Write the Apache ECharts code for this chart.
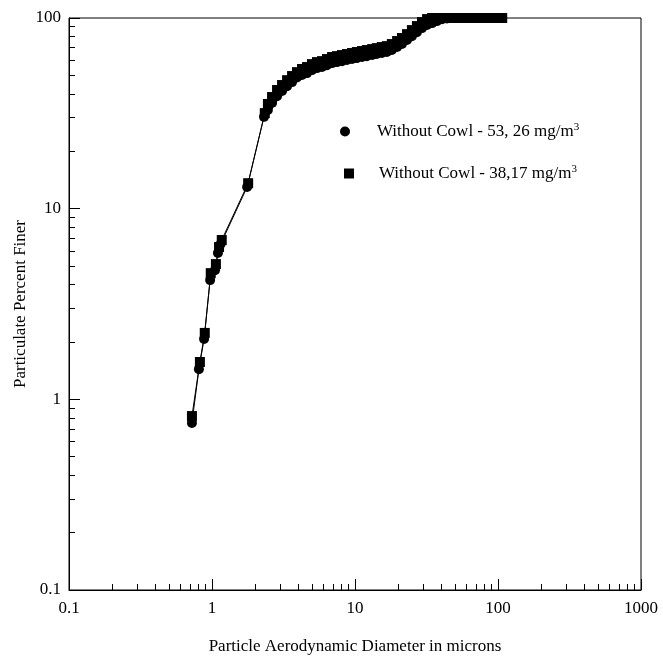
<!DOCTYPE html>
<html>
<head>
<meta charset="utf-8">
<script src="https://cdn.jsdelivr.net/npm/echarts@6/dist/echarts.min.js"></script>
<style>html,body{margin:0;padding:0;background:#fff}#c{width:663px;height:660px}</style>
</head>
<body>
<div id="c"></div>
<script>
var seriesNames = ['Without Cowl - 53, 26 mg/m³', 'Without Cowl - 38,17 mg/m³'];
var xCircle = [0.724, 0.81, 0.88, 0.97, 1.05, 1.10, 1.15, 1.76, 2.31, 2.46, 2.63, 2.85, 3.09, 3.35, 3.63, 3.93, 4.26, 4.62, 5.00, 5.42, 5.88, 6.37, 6.91, 7.48, 8.11, 8.79, 9.53, 10.3, 11.2, 12.1, 13.2, 14.2, 15.4, 16.7, 18.1, 19.7, 21.3, 23.1, 25.0, 27.1, 29.4, 31.9, 34.6, 37.4, 40.6, 44.0, 47.7, 51.7, 56.0, 60.7, 65.8, 71.3, 77.3, 83.8, 90.8, 98.4, 107];
var yCircle = [0.752, 1.44, 2.07, 4.22, 4.76, 5.85, 6.52, 12.98, 30.3, 32.9, 35.8, 38.9, 41.4, 43.9, 46.1, 48.7, 50.2, 51.4, 53.3, 54.6, 55.3, 56.6, 58.0, 58.7, 59.4, 60.2, 60.9, 61.6, 62.4, 63.1, 63.9, 64.7, 65.5, 66.3, 67.9, 70.4, 73.0, 76.6, 80.3, 84.3, 88.5, 91.8, 94.0, 96.3, 98.5, 99.5, 100, 100, 100, 100, 100, 100, 100, 100, 100, 100, 100];
var xSquare = [0.724, 0.823, 0.89, 0.98, 1.065, 1.12, 1.17, 1.79, 2.34, 2.46, 2.63, 2.85, 3.09, 3.35, 3.63, 3.93, 4.26, 4.62, 5.00, 5.42, 5.88, 6.37, 6.91, 7.48, 8.11, 8.79, 9.53, 10.3, 11.2, 12.1, 13.2, 14.2, 15.4, 16.7, 18.1, 19.7, 21.3, 23.1, 25.0, 27.1, 29.4, 31.9, 34.6, 37.4, 40.6, 44.0, 47.7, 51.7, 56.0, 60.7, 65.8, 71.3, 77.3, 83.8, 90.8, 98.4, 107];
var ySquare = [0.817, 1.57, 2.23, 4.59, 5.12, 6.29, 6.85, 13.6, 31.7, 35.4, 38.5, 41.9, 44.5, 47.2, 49.6, 52.0, 54.0, 55.3, 57.3, 58.7, 59.4, 60.9, 62.4, 63.1, 63.9, 64.7, 65.5, 66.3, 67.1, 67.9, 68.7, 69.5, 70.4, 71.2, 73.0, 75.7, 78.5, 82.3, 86.4, 90.7, 95.2, 98.7, 100, 100, 100, 100, 100, 100, 100, 100, 100, 100, 100, 100, 100, 100, 100];

function pairs(xs, ys) { return xs.map(function (x, i) { return [x, ys[i]]; }); }

var FONT = '"Liberation Serif", "Times New Roman", serif';
var chart = echarts.init(document.getElementById('c'), null, {renderer: 'canvas'});

function legendFmt(name) { return name.replace('³', '{sup|3}'); }
var legendText = {
  fontFamily: FONT, fontSize: 17, color: '#000',
  rich: { sup: { fontFamily: FONT, fontSize: 11, color: '#000', verticalAlign: 'bottom', padding: [0, 0, 8, 0] } }
};

chart.setOption({
  animation: false,
  backgroundColor: '#fff',
  grid: { left: 69, right: 22, top: 18, bottom: 70, show: true, borderColor: '#000', borderWidth: 1, backgroundColor: 'transparent' },
  legend: [
    { data: [{ name: seriesNames[0], icon: 'circle' }], left: 335, top: 117, itemWidth: 54, itemHeight: 10,
      formatter: legendFmt, textStyle: legendText, selectedMode: false },
    { data: [{ name: seriesNames[1], icon: 'path://M0,0L1,0L1,1L0,1Z' }], left: 339, top: 159, itemWidth: 50, itemHeight: 10,
      formatter: legendFmt, textStyle: legendText, selectedMode: false }
  ],
  xAxis: {
    type: 'log', logBase: 10, min: 0.1, max: 1000,
    name: 'Particle Aerodynamic Diameter in microns', nameLocation: 'middle', nameGap: 48,
    nameMoveOverlap: false,
    nameTextStyle: { fontFamily: FONT, fontSize: 17, color: '#000' },
    axisLine: { lineStyle: { color: '#000', width: 1 } },
    axisTick: { inside: true, length: 11, lineStyle: { color: '#000' } },
    minorTick: { show: true, splitNumber: 9, length: 6, lineStyle: { color: '#000' } },
    axisLabel: { fontFamily: FONT, fontSize: 17, color: '#000', margin: 10, formatter: function (v) { return String(v); } },
    splitLine: { show: false }, minorSplitLine: { show: false }
  },
  yAxis: {
    type: 'log', logBase: 10, min: 0.1, max: 100,
    name: 'Particulate Percent Finer', nameLocation: 'middle', nameGap: 40,
    nameMoveOverlap: false,
    nameTextStyle: { fontFamily: FONT, fontSize: 17, color: '#000' },
    axisLine: { lineStyle: { color: '#000', width: 1 } },
    axisTick: { inside: true, length: 11, lineStyle: { color: '#000' } },
    minorTick: { show: true, splitNumber: 9, length: 6, lineStyle: { color: '#000' } },
    axisLabel: { fontFamily: FONT, fontSize: 17, color: '#000', margin: 8, formatter: function (v) { return String(v); } },
    splitLine: { show: false }, minorSplitLine: { show: false }
  },
  series: [
    { name: seriesNames[0], type: 'line', data: pairs(xCircle, yCircle), symbol: 'circle', symbolSize: 10,
      clip: false, itemStyle: { color: '#000' }, lineStyle: { color: '#000', width: 1 } },
    { name: seriesNames[1], type: 'line', data: pairs(xSquare, ySquare), symbol: 'rect', symbolSize: 10,
      clip: false, itemStyle: { color: '#000' }, lineStyle: { color: '#000', width: 1 } }
  ]
});
</script>
</body>
</html>
